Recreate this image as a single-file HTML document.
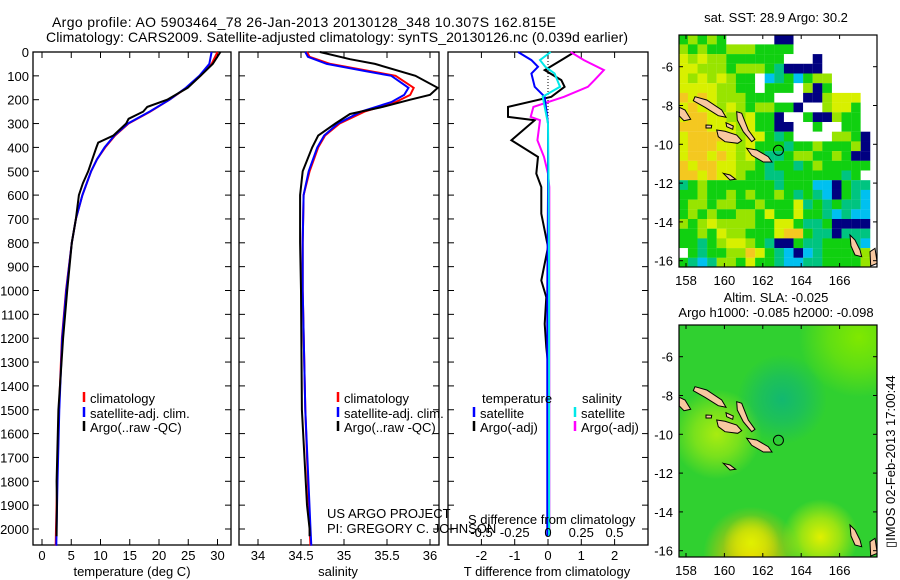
<!DOCTYPE html>
<html><head><meta charset="utf-8">
<style>
html,body{margin:0;padding:0;background:#fff;}
svg{display:block;font-family:"Liberation Sans",sans-serif;}
text{font-size:13px;fill:#000;}
</style></head>
<body>
<svg id="chart" width="900" height="580" viewBox="0 0 900 580" xmlns="http://www.w3.org/2000/svg">
<text x="52" y="27" style="font-size:14px" textLength="504">Argo profile: AO 5903464_78 26-Jan-2013 20130128_348 10.307S 162.815E</text>
<text x="46" y="42" style="font-size:14px" textLength="582">Climatology: CARS2009. Satellite-adjusted climatology: synTS_20130126.nc (0.039d earlier)</text>
<g id="g1"></g>
<g id="g2"></g>
<g id="g3"></g>
<g id="m1"></g>
<g id="m2"></g>
<text x="776" y="22" text-anchor="middle">sat. SST: 28.9 Argo: 30.2</text>
<text x="776" y="302" text-anchor="middle">Altim. SLA: -0.025</text>
<text x="776" y="317" text-anchor="middle">Argo h1000: -0.085 h2000: -0.098</text>
<text transform="translate(895,548) rotate(-90)">▯IMOS 02-Feb-2013 17:00:44</text>
<text x="327" y="518">US ARGO PROJECT</text>
<text x="327" y="533">PI: GREGORY C. JOHNSON</text>
</svg>
<script>
// ---------- data ----------
const depthTicks=[0,100,200,300,400,500,600,700,800,900,1000,1100,1200,1300,1400,1500,1600,1700,1800,1900,2000];
const tempTicks=[0,5,10,15,20,25,30];
const salTicks=[34,34.5,35,35.5,36];
const tdiffTicks=[-2,-1,0,1,2];
const sdiffTicks=[-0.5,-0.25,0,0.25,0.5];
const sdiffTickLabels=["-0.5","-0.25","0","0.25","0.5"];

const tClimDepth=[0,50,100,150,200,250,300,350,400,450,500,600,700,800,1000,1200,1500,1800,2000,2070];
const tClim=[30,29,27.1,24.7,21.8,18.5,14.8,12.5,10.8,9.4,8.4,6.9,5.8,5.1,4.1,3.4,2.9,2.6,2.4,2.35];
const tSat=[29,28.6,26.9,24.6,21.8,18.4,14.7,12.4,10.7,9.4,8.4,6.9,5.8,5.1,4.15,3.45,2.95,2.65,2.5,2.45];
const tArgoDepth=[0,50,100,150,200,230,250,280,300,350,380,400,450,500,550,600,700,800,1000,1200,1500,1800,1900,2000,2030];
const tArgo=[30.5,29.2,27.1,24.9,21.4,18,17.3,14.8,14.4,12.2,9.6,9.3,8.6,7.9,7,6.3,5.8,5.1,4.3,3.6,2.8,2.5,2.55,2.5,2.5];

const sClimDepth=[0,20,50,80,100,150,180,210,250,300,350,400,500,600,800,1000,1500,2000,2070];
const sClim=[34.57,34.6,34.84,35.3,35.6,35.81,35.77,35.6,35.24,34.95,34.78,34.7,34.6,34.53,34.52,34.52,34.55,34.6,34.61];
const sSat=[34.55,34.58,34.8,35.25,35.55,35.75,35.7,35.55,35.2,34.93,34.77,34.69,34.59,34.53,34.52,34.52,34.55,34.61,34.62];
const sArgoDepth=[0,30,50,100,150,180,200,230,260,300,350,400,500,600,800,1000,1500,1900,2000,2030];
const sArgo=[34.72,35.07,35.36,35.83,36.09,36.0,35.77,35.45,35.07,34.9,34.7,34.63,34.52,34.49,34.49,34.5,34.51,34.57,34.6,34.6];

const dArgoDepth=[0,34,76,118,146,188,230,272,286,370,440,510,566,678,818,958,1028,1140,1238,1308,1500,2030];
const dTArgo=[0.8,0.4,-0.1,0.4,0.5,0.1,-1.2,-1.2,-0.4,-1.1,-0.3,-0.35,-0.2,-0.2,0,-0.2,-0.05,-0.1,-0.05,0,0,0];
const dSArgo=[0.17,0.27,0.42,0.35,0.3,0.12,-0.11,-0.13,-0.06,-0.08,-0.03,0,0.01,0.01,0.01,0.01,0.01,0.01,0.01,0.01,0.01,0.01];
const dSatDepth=[0,34,62,90,146,188,300,600,1000,2030];
const dTSat=[-0.9,-0.5,-0.3,-0.5,-0.4,-0.1,0,0,-0.02,-0.02];
const dSSat=[0.02,-0.06,-0.02,0.05,0.09,-0.04,0,0.005,0.008,0.008];

const lonTicks=[158,160,162,164,166];
const latTicks=[-6,-8,-10,-12,-14,-16];
const sstGrid=[
"glglgwwwwwnnwwwwwwwww",
"lglgglllggggwwwwwwwww",
"ylyllggggggwwwnwwwwww",
"yylllglllgtnnnnwwwwww",
"ylylylggwctgcgllwwwww",
"yyyyllggwgggwlngwwwww",
"oyoylllgggwwwnnlyyyww",
"yoyylylgllggnwwlyygww",
"yooyyllyggnwwgnnlggww",
"oooyyylyggnnwwgwwggww",
"yooooylyygtgwwwwllgnw",
"yoooyylygggtgglggglnw",
"yooyoylygttgllgglgnnw",
"oyooyyllgtggtglgggggw",
"ooyoyylggttggggggtgww",
"tglgggggggtgggccngttw",
"gglgglglgglgtgtcngtcw",
"gllgllgglgggytgtgttcw",
"glglggllgyggyggtctccw",
"lglyllllggyygttgnnnnw",
"gglgyllgggyoogttntttw",
"ggtglyylgtnngttgggtcw",
"wgtgglloygtcnctgggglw",
"gtctllgyggtccttgggglw"];
const sstColors={g:"#10d010",l:"#98e400",y:"#d8f000",o:"#f4c820",t:"#00c480",c:"#00c0f0",n:"#000080",w:"#ffffff"};
const argoLon=162.815, argoLat=-10.307;

// ---------- helpers ----------
const NS="http://www.w3.org/2000/svg";
function mk(parent,tag,attrs,txt){const e=document.createElementNS(NS,tag);for(const k in attrs)e.setAttribute(k,attrs[k]);if(txt!==undefined)e.textContent=txt;parent.appendChild(e);return e;}
const top0=52, bot=545;
function yD(d){return top0+d*0.2385;}
const P1={l:33,r:231}, P2={l:239,r:439}, P3={l:448,r:648};
function xT(t){return 42+t*5.85;}
function xS(s){return 258+(s-34)*86;}
function xTd(v){return 548+v*33.3;}
function xSd(v){return 548+v*133;}

function frame(g,P,name){
  const r=mk(g,'rect',{x:P.l,y:top0,width:P.r-P.l,height:bot-top0,fill:'none',stroke:'#000','stroke-width':1.3});
  
  
  depthTicks.forEach(d=>{
    const y=yD(d);
    const t1=mk(g,'line',{x1:P.l,x2:P.l+6,y1:y,y2:y,stroke:'#000'});
    
    
    const t2=mk(g,'line',{x1:P.r-6,x2:P.r,y1:y,y2:y,stroke:'#000'});
    
    
  });
}
function xticks(g,vals,fx,labels,name){
  vals.forEach((v,i)=>{
    const x=fx(v);
    const a=mk(g,'line',{x1:x,x2:x,y1:top0,y2:top0+6,stroke:'#000'});
    
    
    const b=mk(g,'line',{x1:x,x2:x,y1:bot-6,y2:bot,stroke:'#000'});
    
    
    const t=mk(g,'text',{x:x,y:560,'text-anchor':'middle'},labels?labels[i]:String(v));
    
    
  });
}
function line(g,depths,vals,fx,color,name,w){
  const pts=depths.map((d,i)=>fx(vals[i]).toFixed(1)+','+yD(d).toFixed(1)).join(' ');
  const p=mk(g,'polyline',{points:pts,fill:'none',stroke:color,'stroke-width':w||2,'stroke-linejoin':'miter'});
  
  
}
function legendItem(g,x,y,color,label,name){
  const m=mk(g,'line',{x1:x,x2:x,y1:y-10,y2:y,stroke:color,'stroke-width':2.5});
  
  
  const t=mk(g,'text',{x:x+6,y:y+1},label);
  
  
}

// ---------- panel 1 ----------
const g1=document.getElementById('g1');
frame(g1,P1,'temperature-panel');
depthTicks.forEach(d=>{
  const t=mk(g1,'text',{x:29,y:yD(d)+5,'text-anchor':'end'},String(d));
  
  
});
xticks(g1,tempTicks,xT,null,'temperature');
line(g1,tClimDepth,tClim,xT,'#ff0000','temperature-climatology-line');
line(g1,tClimDepth,tSat,xT,'#0000ff','temperature-satellite-line');
line(g1,tArgoDepth,tArgo,xT,'#000000','temperature-argo-line');
legendItem(g1,84,402,'#ff0000','climatology','legend-climatology');
legendItem(g1,84,417,'#0000ff','satellite-adj. clim.','legend-satellite-adj');
legendItem(g1,84,431,'#000000','Argo(..raw -QC)','legend-argo');
let at=mk(g1,'text',{x:132,y:576,'text-anchor':'middle'},'temperature (deg C)');



// ---------- panel 2 ----------
const g2=document.getElementById('g2');
frame(g2,P2,'salinity-panel');
xticks(g2,salTicks,xS,null,'salinity');
line(g2,sClimDepth,sClim,xS,'#ff0000','salinity-climatology-line');
line(g2,sClimDepth,sSat,xS,'#0000ff','salinity-satellite-line');
line(g2,sArgoDepth,sArgo,xS,'#000000','salinity-argo-line');
legendItem(g2,338,402,'#ff0000','climatology','legend-climatology-2');
legendItem(g2,338,417,'#0000ff','satellite-adj. clim.','legend-satellite-adj-2');
legendItem(g2,338,431,'#000000','Argo(..raw -QC)','legend-argo-2');
at=mk(g2,'text',{x:338,y:576,'text-anchor':'middle'},'salinity');



// ---------- panel 3 ----------
const g3=document.getElementById('g3');
frame(g3,P3,'difference-panel');
xticks(g3,tdiffTicks,xTd,null,'t-difference');
const zl=mk(g3,'line',{x1:xTd(0),x2:xTd(0),y1:top0,y2:yD(320),stroke:'#000','stroke-dasharray':'1,2'});


line(g3,dArgoDepth,dTArgo,xTd,'#000000','t-diff-argo-line');
line(g3,dArgoDepth,dSArgo,xSd,'#ff00ff','s-diff-argo-line');
line(g3,dSatDepth,dTSat,xTd,'#0000ff','t-diff-satellite-line');
line(g3,dSatDepth,dSSat,xSd,'#00e8e8','s-diff-satellite-line');
sdiffTicks.forEach((v,i)=>{
  const t=mk(g3,'text',{x:xSd(v),y:537,'text-anchor':'middle'},sdiffTickLabels[i]);
  
  
});
at=mk(g3,'text',{x:468,y:524},'S difference from climatology');


at=mk(g3,'text',{x:547,y:576,'text-anchor':'middle'},'T difference from climatology');


at=mk(g3,'text',{x:482,y:403},'temperature');


at=mk(g3,'text',{x:582,y:403},'salinity');


legendItem(g3,474,417,'#0000ff','satellite','legend-t-satellite');
legendItem(g3,474,431,'#000000','Argo(-adj)','legend-t-argo');
legendItem(g3,575,417,'#00e8e8','satellite','legend-s-satellite');
legendItem(g3,575,431,'#ff00ff','Argo(-adj)','legend-s-argo');

// ---------- maps ----------
const ML=679, MR=877;
function mx(lon){return 686+(lon-158)*19.2;}
function myy(lat,off){return 66.7+off+(-6-lat)*19.4;}
const islands=[
[[165,290],[200,300],[245,330],[258,352],[235,347],[195,322],[160,302]],
[[118,322],[135,330],[152,358],[132,362],[118,348]],
[[290,335],[305,340],[325,390],[345,418],[335,425],[310,395],[292,360]],
[[230,390],[255,394],[290,405],[305,422],[293,430],[255,425],[235,410]],
[[320,445],[350,450],[385,470],[396,486],[370,486],[335,466]],
[[258,368],[280,378],[278,388],[260,380]],
[[250,520],[270,525],[287,538],[270,540]],
[[630,705],[645,720],[660,750],[665,770],[645,765],[633,738]],
[[690,755],[705,745],[712,790],[692,798]],
[[198,375],[215,376],[214,384],[198,384]]
];
function drawMap(gid,off,isSST){
  const g=document.getElementById(gid);
  const top=35+off, bottom=267+off;
  const cid='clip'+gid;
  const cp=mk(g,'clipPath',{id:cid});
  mk(cp,'rect',{x:ML,y:top,width:MR-ML,height:bottom-top});
  const inner=mk(g,'g',{'clip-path':'url(#'+cid+')'});
  if(isSST){
    sstGrid.forEach((row,j)=>{
      for(let i=0;i<row.length;i++){
        const lon=157.6+i*0.5, lat=-4.35-j*0.5;
        const c=mk(inner,'rect',{x:mx(lon),y:myy(lat,off),width:9.7,height:9.8,fill:sstColors[row[i]]});
        
        
      }
    });
  } else {
    const defs=mk(g,'defs',{});
    const blobs=[['b1','#a8ec10',mx(159.6),myy(-10,off),45],['b2','#f2c000',mx(161.4),myy(-16.2,off),48],['b3','#e0f000',mx(165),myy(-15.3,off),38],['b4','#12b870',mx(163),myy(-8.2,off),45],['b5','#80e800',mx(167),myy(-5,off),60]];
    blobs.forEach(b=>{
      const rg=mk(defs,'radialGradient',{id:b[0]});
      mk(rg,'stop',{offset:'0','stop-color':b[1],'stop-opacity':1});
      mk(rg,'stop',{offset:'0.5','stop-color':b[1],'stop-opacity':0.6});
      mk(rg,'stop',{offset:'1','stop-color':b[1],'stop-opacity':0});
    });
    const base=mk(inner,'rect',{x:ML,y:top,width:MR-ML,height:bottom-top,fill:'#30d030'});
    
    
    blobs.forEach(b=>{
      const e=mk(inner,'circle',{cx:b[2],cy:b[3],r:b[4],fill:'url(#'+b[0]+')'});
      
      
    });
    const e2=mk(inner,'circle',{cx:mx(161.4),cy:myy(-15.6,off),r:28,fill:'url(#b3)'});
    
    
  }
  islands.forEach(poly=>{
    const pts=poly.map(p=>(640+p[0]/3).toFixed(1)+','+(p[1]/3+off).toFixed(1)).join(' ');
    const pg=mk(inner,'polygon',{points:pts,fill:'#f8c8a0',stroke:'#000','stroke-width':1});
    
    
  });
  const ci=mk(inner,'circle',{cx:mx(argoLon),cy:myy(argoLat,off),r:5,fill:'none',stroke:'#000','stroke-width':1});
  
  
  const fr=mk(g,'rect',{x:ML,y:top,width:MR-ML,height:bottom-top,fill:'none',stroke:'#000','stroke-width':1.2});
  
  
  lonTicks.forEach(l=>{
    const x=mx(l);
    const a=mk(g,'line',{x1:x,x2:x,y1:top,y2:top+4,stroke:'#000'});
    
    
    const b=mk(g,'line',{x1:x,x2:x,y1:bottom,y2:bottom-4,stroke:'#000'});
    
    
    const t=mk(g,'text',{x:x,y:bottom+18,'text-anchor':'middle'},String(l));
    
    
  });
  latTicks.forEach(l=>{
    const y=myy(l,off);
    const a=mk(g,'line',{x1:ML,x2:ML+4,y1:y,y2:y,stroke:'#000'});
    
    
    const b=mk(g,'line',{x1:MR-4,x2:MR,y1:y,y2:y,stroke:'#000'});
    
    
    const t=mk(g,'text',{x:673,y:y+5,'text-anchor':'end'},String(l));
    
    
  });
}
drawMap('m1',0,true);
drawMap('m2',290,false);
</script>
</body></html>
